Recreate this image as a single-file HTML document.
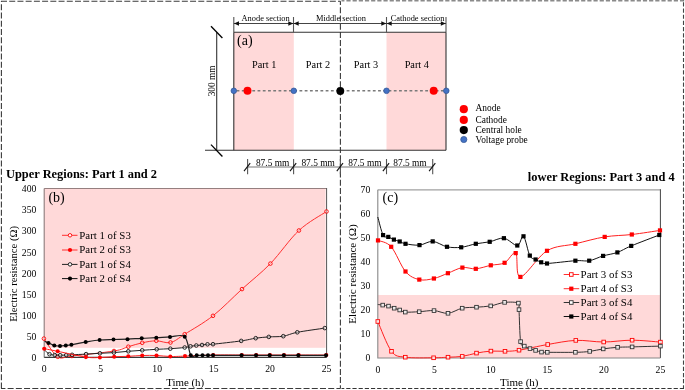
<!DOCTYPE html>
<html><head><meta charset="utf-8"><title>Figure</title>
<style>
html,body{margin:0;padding:0;background:#fff;width:685px;height:390px;overflow:hidden;}
svg{display:block;font-family:"Liberation Serif", serif;}
</style></head>
<body>
<svg style="will-change:transform" width="685" height="390" viewBox="0 0 685 390">
<rect x="0" y="0" width="685" height="390" fill="#fff"/>
<g fill="none" stroke="#3a3a3a" stroke-width="1.1" stroke-dasharray="6 2.22">
<line x1="1" y1="1.3" x2="340.4" y2="1.3"/>
<line x1="1.4" y1="1.3" x2="1.4" y2="388.5" stroke-dashoffset="5.22"/>
<line x1="1" y1="388.5" x2="340.4" y2="388.5" stroke-dashoffset="1.6"/>
<line x1="340.4" y1="1.3" x2="340.4" y2="388.5" stroke-dashoffset="2.3"/>
</g>
<g fill="none" stroke-dasharray="4.2 1.977">
<line x1="341.5" y1="0.7" x2="684.5" y2="0.7" stroke="#8a8a8a" stroke-width="1.6" stroke-dashoffset="1.27"/>
<line x1="683.5" y1="0" x2="683.5" y2="388.5" stroke="#444" stroke-width="1.1" stroke-dashoffset="3.87"/>
<line x1="341.5" y1="388.5" x2="684" y2="388.5" stroke="#333" stroke-width="1.1" stroke-dashoffset="1.42"/>
</g>
<rect x="233.8" y="32.3" width="60.0" height="118.0" fill="#FFD9D9"/>
<rect x="386.5" y="32.3" width="59.5" height="118.0" fill="#FFD9D9"/>
<g stroke="#333" stroke-width="1.1" fill="none">
<line x1="233.8" y1="32.3" x2="446.0" y2="32.3"/>
<line x1="233.8" y1="32.3" x2="233.8" y2="150.3"/>
<line x1="446.0" y1="32.3" x2="446.0" y2="150.3"/>
<line x1="205" y1="150.3" x2="446.0" y2="150.3"/>
<line x1="233.8" y1="17" x2="233.8" y2="32.3" stroke="#555"/>
<line x1="293.5" y1="17" x2="293.5" y2="32.3" stroke="#555"/>
<line x1="386.5" y1="17" x2="386.5" y2="32.3" stroke="#555"/>
<line x1="446.0" y1="17" x2="446.0" y2="32.3" stroke="#555"/>
<line x1="233.8" y1="23.5" x2="446.0" y2="23.5" stroke="#444"/>
<line x1="216.7" y1="32.3" x2="216.7" y2="150.3"/>
<line x1="211" y1="26.3" x2="222.4" y2="38" stroke="#000" stroke-width="1.3"/>
<line x1="211" y1="144.6" x2="222.4" y2="156.5" stroke="#000" stroke-width="1.3"/>
<line x1="247.6" y1="167.0" x2="432.7" y2="167.0" stroke="#777" stroke-width="1.2"/>
<line x1="247.6" y1="159" x2="247.6" y2="174.2" stroke="#555"/>
<line x1="244.0" y1="171.2" x2="250.2" y2="163.2" stroke="#111" stroke-width="1.1"/>
<line x1="293.6" y1="159" x2="293.6" y2="174.2" stroke="#555"/>
<line x1="290.0" y1="171.2" x2="296.2" y2="163.2" stroke="#111" stroke-width="1.1"/>
<line x1="340.4" y1="159" x2="340.4" y2="174.2" stroke="#555"/>
<line x1="336.8" y1="171.2" x2="343.0" y2="163.2" stroke="#111" stroke-width="1.1"/>
<line x1="386.5" y1="159" x2="386.5" y2="174.2" stroke="#555"/>
<line x1="382.9" y1="171.2" x2="389.1" y2="163.2" stroke="#111" stroke-width="1.1"/>
<line x1="432.7" y1="159" x2="432.7" y2="174.2" stroke="#555"/>
<line x1="429.1" y1="171.2" x2="435.3" y2="163.2" stroke="#111" stroke-width="1.1"/>
</g>
<g fill="#111">
<path d="M234.0,23.5 l5,-2.3 v4.6z"/>
<path d="M293.3,23.5 l-5,-2.3 v4.6z"/>
<path d="M293.7,23.5 l5,-2.3 v4.6z"/>
<path d="M386.3,23.5 l-5,-2.3 v4.6z"/>
<path d="M386.7,23.5 l5,-2.3 v4.6z"/>
<path d="M445.8,23.5 l-5,-2.3 v4.6z"/>
</g>
<g font-family='"Liberation Serif", serif'>
<text x="265.60" y="20.80" font-size="8.40" text-anchor="middle" font-weight="normal" fill="#000" >Anode section</text>
<text x="340.95" y="20.80" font-size="8.40" text-anchor="middle" font-weight="normal" fill="#000" >Middle section</text>
<text x="417.55" y="20.80" font-size="8.40" text-anchor="middle" font-weight="normal" fill="#000" >Cathode section</text>
<text x="237.00" y="45.20" font-size="14.00" text-anchor="start" font-weight="normal" fill="#000" >(a)</text>
<text x="264.20" y="68.20" font-size="10.30" text-anchor="middle" font-weight="normal" fill="#000" >Part 1</text>
<text x="318.00" y="68.20" font-size="10.30" text-anchor="middle" font-weight="normal" fill="#000" >Part 2</text>
<text x="366.00" y="68.20" font-size="10.30" text-anchor="middle" font-weight="normal" fill="#000" >Part 3</text>
<text x="416.80" y="68.20" font-size="10.30" text-anchor="middle" font-weight="normal" fill="#000" >Part 4</text>
<text x="272.60" y="166.00" font-size="9.40" text-anchor="middle" font-weight="normal" fill="#000" >87.5 mm</text>
<text x="318.10" y="166.00" font-size="9.40" text-anchor="middle" font-weight="normal" fill="#000" >87.5 mm</text>
<text x="364.80" y="166.00" font-size="9.40" text-anchor="middle" font-weight="normal" fill="#000" >87.5 mm</text>
<text x="410.00" y="166.00" font-size="9.40" text-anchor="middle" font-weight="normal" fill="#000" >87.5 mm</text>
<text x="214.7" y="81" font-size="9.3" text-anchor="middle" fill="#000" transform="rotate(-90 214.7 81)">300 mm</text>
<text x="475.60" y="111.30" font-size="9.40" text-anchor="start" font-weight="normal" fill="#000" >Anode</text>
<text x="475.60" y="122.80" font-size="9.40" text-anchor="start" font-weight="normal" fill="#000" >Cathode</text>
<text x="475.60" y="132.50" font-size="9.40" text-anchor="start" font-weight="normal" fill="#000" >Central hole</text>
<text x="475.60" y="142.50" font-size="9.40" text-anchor="start" font-weight="normal" fill="#000" >Voltage probe</text>
</g>
<line x1="233.8" y1="90.8" x2="446.0" y2="90.8" stroke="#7a7a7a" stroke-width="1.4" stroke-dasharray="2.8 2.44" stroke-dashoffset="2.45"/>
<circle cx="233.8" cy="90.8" r="2.8" fill="#4472C4" stroke="#2F528F" stroke-width="0.7"/>
<circle cx="293.8" cy="90.8" r="2.8" fill="#4472C4" stroke="#2F528F" stroke-width="0.7"/>
<circle cx="386.5" cy="90.8" r="2.8" fill="#4472C4" stroke="#2F528F" stroke-width="0.7"/>
<circle cx="446.3" cy="90.8" r="2.8" fill="#4472C4" stroke="#2F528F" stroke-width="0.7"/>
<circle cx="247.5" cy="90.8" r="4" fill="#FF0000"/>
<circle cx="433.7" cy="90.8" r="4" fill="#FF0000"/>
<circle cx="340.3" cy="91" r="3.9" fill="#000"/>
<circle cx="463.8" cy="109.2" r="4.1" fill="#FF0000"/>
<circle cx="463.8" cy="119.9" r="4.1" fill="#FF0000"/>
<circle cx="463.8" cy="130.1" r="4.1" fill="#000"/>
<circle cx="463.8" cy="139.5" r="3.1" fill="#4472C4" stroke="#2F528F" stroke-width="0.7"/>
<rect x="44.2" y="188.5" width="281.4" height="159.3" fill="#FFD9D9"/>
<path d="M44.2,188.5 H326.6" fill="none" stroke="#957f7f" stroke-width="1.1"/>
<path d="M44.2,188.5 V348.0" fill="none" stroke="#8d7b7b" stroke-width="1.1"/>
<path d="M44.2,348 V357.4" fill="none" stroke="#777" stroke-width="1.1"/>
<path d="M326.6,188.0 V357.4" fill="none" stroke="#555" stroke-width="1"/>
<path d="M44.2,357.4 H326.6" fill="none" stroke="#3a3a3a" stroke-width="1.1"/>
<g font-family='"Liberation Serif", serif'>
<text x="36.40" y="361.15" font-size="9.70" text-anchor="end" font-weight="normal" fill="#000" >0</text>
<text x="36.40" y="340.04" font-size="9.70" text-anchor="end" font-weight="normal" fill="#000" >50</text>
<text x="36.40" y="318.92" font-size="9.70" text-anchor="end" font-weight="normal" fill="#000" >100</text>
<text x="36.40" y="297.81" font-size="9.70" text-anchor="end" font-weight="normal" fill="#000" >150</text>
<text x="36.40" y="276.70" font-size="9.70" text-anchor="end" font-weight="normal" fill="#000" >200</text>
<text x="36.40" y="255.59" font-size="9.70" text-anchor="end" font-weight="normal" fill="#000" >250</text>
<text x="36.40" y="234.47" font-size="9.70" text-anchor="end" font-weight="normal" fill="#000" >300</text>
<text x="36.40" y="213.36" font-size="9.70" text-anchor="end" font-weight="normal" fill="#000" >350</text>
<text x="36.40" y="192.25" font-size="9.70" text-anchor="end" font-weight="normal" fill="#000" >400</text>
<text x="44.20" y="371.80" font-size="9.70" text-anchor="middle" font-weight="normal" fill="#000" >0</text>
<text x="100.68" y="371.80" font-size="9.70" text-anchor="middle" font-weight="normal" fill="#000" >5</text>
<text x="157.16" y="371.80" font-size="9.70" text-anchor="middle" font-weight="normal" fill="#000" >10</text>
<text x="213.64" y="371.80" font-size="9.70" text-anchor="middle" font-weight="normal" fill="#000" >15</text>
<text x="270.12" y="371.80" font-size="9.70" text-anchor="middle" font-weight="normal" fill="#000" >20</text>
<text x="326.60" y="371.80" font-size="9.70" text-anchor="middle" font-weight="normal" fill="#000" >25</text>
<text x="185.20" y="385.60" font-size="10.90" text-anchor="middle" font-weight="normal" fill="#000" >Time (h)</text>
<text x="48.40" y="201.80" font-size="14.00" text-anchor="start" font-weight="normal" fill="#000" >(b)</text>
<text x="17.2" y="273.9" font-size="10.7" text-anchor="middle" fill="#000" transform="rotate(-90 17.2 273.9)">Electric resistance (&#937;)</text>
<text x="6.00" y="178.30" font-size="12.42" text-anchor="start" font-weight="bold" fill="#000" >Upper Regions: Part 1 and 2</text>
</g>
<path d="M43.90,338.60 C46.20,341.63 53.03,353.90 57.70,356.80 C62.37,359.70 62.52,356.97 71.90,356.00 C81.28,355.03 104.60,352.55 114.00,351.00 C123.40,349.45 123.60,348.07 128.30,346.70 C133.00,345.33 137.53,343.78 142.20,342.80 C146.87,341.82 151.58,340.85 156.30,340.80 C161.02,340.75 165.77,343.60 170.50,342.50 C175.23,341.40 177.62,338.65 184.70,334.20 C191.78,329.75 203.45,323.32 213.00,315.80 C222.55,308.28 232.43,297.80 242.00,289.10 C251.57,280.40 260.92,273.37 270.40,263.60 C279.88,253.83 289.55,239.18 298.90,230.50 C308.25,221.82 321.90,214.67 326.50,211.50" fill="none" stroke="#ff3030" stroke-width="1"/>
<circle cx="43.9" cy="338.6" r="1.8" fill="#fff" fill-opacity="0.4" stroke="#FF0000" stroke-width="0.9"/>
<circle cx="57.7" cy="356.8" r="1.8" fill="#fff" fill-opacity="0.4" stroke="#FF0000" stroke-width="0.9"/>
<circle cx="71.9" cy="356.0" r="1.8" fill="#fff" fill-opacity="0.4" stroke="#FF0000" stroke-width="0.9"/>
<circle cx="114.0" cy="351.0" r="1.8" fill="#fff" fill-opacity="0.4" stroke="#FF0000" stroke-width="0.9"/>
<circle cx="128.3" cy="346.7" r="1.8" fill="#fff" fill-opacity="0.4" stroke="#FF0000" stroke-width="0.9"/>
<circle cx="142.2" cy="342.8" r="1.8" fill="#fff" fill-opacity="0.4" stroke="#FF0000" stroke-width="0.9"/>
<circle cx="156.3" cy="340.8" r="1.8" fill="#fff" fill-opacity="0.4" stroke="#FF0000" stroke-width="0.9"/>
<circle cx="170.5" cy="342.5" r="1.8" fill="#fff" fill-opacity="0.4" stroke="#FF0000" stroke-width="0.9"/>
<circle cx="184.7" cy="334.2" r="1.8" fill="#fff" fill-opacity="0.4" stroke="#FF0000" stroke-width="0.9"/>
<circle cx="213.0" cy="315.8" r="1.8" fill="#fff" fill-opacity="0.4" stroke="#FF0000" stroke-width="0.9"/>
<circle cx="242.0" cy="289.1" r="1.8" fill="#fff" fill-opacity="0.4" stroke="#FF0000" stroke-width="0.9"/>
<circle cx="270.4" cy="263.6" r="1.8" fill="#fff" fill-opacity="0.4" stroke="#FF0000" stroke-width="0.9"/>
<circle cx="298.9" cy="230.5" r="1.8" fill="#fff" fill-opacity="0.4" stroke="#FF0000" stroke-width="0.9"/>
<circle cx="326.5" cy="211.5" r="1.8" fill="#fff" fill-opacity="0.4" stroke="#FF0000" stroke-width="0.9"/>
<path d="M44.20,349.70 C45.08,350.45 47.73,353.32 49.50,354.20 C51.27,355.08 53.02,354.83 54.80,355.00 C56.58,355.17 58.30,355.18 60.20,355.20 C62.10,355.22 64.22,355.17 66.20,355.10 C68.18,355.03 68.78,354.97 72.10,354.80 C75.42,354.63 81.47,354.35 86.10,354.10 C90.73,353.85 95.27,353.55 99.90,353.30 C104.53,353.05 109.17,352.93 113.90,352.60 C118.63,352.27 123.58,351.68 128.30,351.30 C133.02,350.92 137.47,350.63 142.20,350.30 C146.93,349.97 152.02,349.57 156.70,349.30 C161.38,349.03 165.63,349.00 170.30,348.70 C174.97,348.40 181.33,347.90 184.70,347.50 C188.07,347.10 188.57,346.63 190.50,346.30 C192.43,345.97 194.38,345.72 196.30,345.50 C198.22,345.28 200.13,345.20 202.00,345.00 C203.87,344.80 205.67,344.43 207.50,344.30 C209.33,344.17 207.38,344.77 213.00,344.20 C218.62,343.63 234.08,341.90 241.20,340.90 C248.32,339.90 251.10,338.87 255.70,338.20 C260.30,337.53 264.20,337.23 268.80,336.90 C273.40,336.57 278.55,336.97 283.30,336.20 C288.05,335.43 290.38,333.65 297.30,332.30 C304.22,330.95 320.22,328.80 324.80,328.10" fill="none" stroke="#222" stroke-width="1"/>
<circle cx="49.5" cy="354.2" r="1.8" fill="#fff" fill-opacity="0.4" stroke="#111" stroke-width="0.9"/>
<circle cx="54.8" cy="355.0" r="1.8" fill="#fff" fill-opacity="0.4" stroke="#111" stroke-width="0.9"/>
<circle cx="60.2" cy="355.2" r="1.8" fill="#fff" fill-opacity="0.4" stroke="#111" stroke-width="0.9"/>
<circle cx="66.2" cy="355.1" r="1.8" fill="#fff" fill-opacity="0.4" stroke="#111" stroke-width="0.9"/>
<circle cx="72.1" cy="354.8" r="1.8" fill="#fff" fill-opacity="0.4" stroke="#111" stroke-width="0.9"/>
<circle cx="86.1" cy="354.1" r="1.8" fill="#fff" fill-opacity="0.4" stroke="#111" stroke-width="0.9"/>
<circle cx="99.9" cy="353.3" r="1.8" fill="#fff" fill-opacity="0.4" stroke="#111" stroke-width="0.9"/>
<circle cx="113.9" cy="352.6" r="1.8" fill="#fff" fill-opacity="0.4" stroke="#111" stroke-width="0.9"/>
<circle cx="128.3" cy="351.3" r="1.8" fill="#fff" fill-opacity="0.4" stroke="#111" stroke-width="0.9"/>
<circle cx="142.2" cy="350.3" r="1.8" fill="#fff" fill-opacity="0.4" stroke="#111" stroke-width="0.9"/>
<circle cx="156.7" cy="349.3" r="1.8" fill="#fff" fill-opacity="0.4" stroke="#111" stroke-width="0.9"/>
<circle cx="170.3" cy="348.7" r="1.8" fill="#fff" fill-opacity="0.4" stroke="#111" stroke-width="0.9"/>
<circle cx="184.7" cy="347.5" r="1.8" fill="#fff" fill-opacity="0.4" stroke="#111" stroke-width="0.9"/>
<circle cx="190.5" cy="346.3" r="1.8" fill="#fff" fill-opacity="0.4" stroke="#111" stroke-width="0.9"/>
<circle cx="196.3" cy="345.5" r="1.8" fill="#fff" fill-opacity="0.4" stroke="#111" stroke-width="0.9"/>
<circle cx="202.0" cy="345.0" r="1.8" fill="#fff" fill-opacity="0.4" stroke="#111" stroke-width="0.9"/>
<circle cx="207.5" cy="344.3" r="1.8" fill="#fff" fill-opacity="0.4" stroke="#111" stroke-width="0.9"/>
<circle cx="213.0" cy="344.2" r="1.8" fill="#fff" fill-opacity="0.4" stroke="#111" stroke-width="0.9"/>
<circle cx="241.2" cy="340.9" r="1.8" fill="#fff" fill-opacity="0.4" stroke="#111" stroke-width="0.9"/>
<circle cx="255.7" cy="338.2" r="1.8" fill="#fff" fill-opacity="0.4" stroke="#111" stroke-width="0.9"/>
<circle cx="268.8" cy="336.9" r="1.8" fill="#fff" fill-opacity="0.4" stroke="#111" stroke-width="0.9"/>
<circle cx="283.3" cy="336.2" r="1.8" fill="#fff" fill-opacity="0.4" stroke="#111" stroke-width="0.9"/>
<circle cx="297.3" cy="332.3" r="1.8" fill="#fff" fill-opacity="0.4" stroke="#111" stroke-width="0.9"/>
<circle cx="324.8" cy="328.1" r="1.8" fill="#fff" fill-opacity="0.4" stroke="#111" stroke-width="0.9"/>
<path d="M44.20,348.70 C46.45,349.13 50.75,349.90 57.70,351.30 C64.65,352.70 78.87,356.07 85.90,357.10 C92.93,358.13 95.18,357.57 99.90,357.50 C104.62,357.43 109.47,356.90 114.20,356.70 C118.93,356.50 123.63,356.50 128.30,356.30 C132.97,356.10 137.50,355.63 142.20,355.50 C146.90,355.37 151.82,355.33 156.50,355.50 C161.18,355.67 165.55,356.40 170.30,356.50 C175.05,356.60 177.83,356.35 185.00,356.10 C192.17,355.85 203.82,355.18 213.30,355.00 C222.78,354.82 234.73,355.00 241.90,355.00 C249.07,355.00 251.62,355.00 256.30,355.00 C260.98,355.00 265.37,355.00 270.00,355.00 C274.63,355.00 279.32,355.00 284.10,355.00 C288.88,355.00 291.67,355.00 298.70,355.00 C305.73,355.00 321.70,355.00 326.30,355.00" fill="none" stroke="#ff2020" stroke-width="1"/>
<circle cx="44.2" cy="348.7" r="2.05" fill="#FF0000"/>
<circle cx="57.7" cy="351.3" r="2.05" fill="#FF0000"/>
<circle cx="85.9" cy="357.1" r="2.05" fill="#FF0000"/>
<circle cx="99.9" cy="357.5" r="2.05" fill="#FF0000"/>
<circle cx="114.2" cy="356.7" r="2.05" fill="#FF0000"/>
<circle cx="128.3" cy="356.3" r="2.05" fill="#FF0000"/>
<circle cx="142.2" cy="355.5" r="2.05" fill="#FF0000"/>
<circle cx="156.5" cy="355.5" r="2.05" fill="#FF0000"/>
<circle cx="170.3" cy="356.5" r="2.05" fill="#FF0000"/>
<circle cx="185.0" cy="356.1" r="2.05" fill="#FF0000"/>
<circle cx="213.3" cy="355.0" r="2.05" fill="#FF0000"/>
<circle cx="241.9" cy="355.0" r="2.05" fill="#FF0000"/>
<circle cx="256.3" cy="355.0" r="2.05" fill="#FF0000"/>
<circle cx="270.0" cy="355.0" r="2.05" fill="#FF0000"/>
<circle cx="284.1" cy="355.0" r="2.05" fill="#FF0000"/>
<circle cx="298.7" cy="355.0" r="2.05" fill="#FF0000"/>
<circle cx="326.3" cy="355.0" r="2.05" fill="#FF0000"/>
<path d="M44.60,341.30 C45.25,341.57 46.88,342.18 48.50,342.90 C50.12,343.62 52.38,345.08 54.30,345.60 C56.22,346.12 58.08,346.02 60.00,346.00 C61.92,345.98 63.90,345.70 65.80,345.50 C67.70,345.30 68.08,345.37 71.40,344.80 C74.72,344.23 81.00,342.90 85.70,342.10 C90.40,341.30 94.97,340.43 99.60,340.00 C104.23,339.57 108.85,339.63 113.50,339.50 C118.15,339.37 122.80,339.40 127.50,339.20 C132.20,339.00 136.90,338.55 141.70,338.30 C146.50,338.05 151.58,337.93 156.30,337.70 C161.02,337.47 165.27,337.07 170.00,336.90 C174.73,336.73 181.23,333.63 184.70,336.70 C188.17,339.77 188.80,352.20 190.80,355.30 C192.80,358.40 194.75,355.30 196.70,355.30 C198.65,355.30 200.62,355.30 202.50,355.30 C204.38,355.30 206.25,355.30 208.00,355.30 C209.75,355.30 207.42,355.30 213.00,355.30 C218.58,355.30 234.33,355.30 241.50,355.30 C248.67,355.30 251.32,355.30 256.00,355.30 C260.68,355.30 264.97,355.30 269.60,355.30 C274.23,355.30 279.02,355.30 283.80,355.30 C288.58,355.30 291.27,355.30 298.30,355.30 C305.33,355.30 321.38,355.30 326.00,355.30" fill="none" stroke="#222" stroke-width="1.2"/>
<circle cx="48.5" cy="342.9" r="2.0" fill="#000"/>
<circle cx="54.3" cy="345.6" r="2.0" fill="#000"/>
<circle cx="60.0" cy="346.0" r="2.0" fill="#000"/>
<circle cx="65.8" cy="345.5" r="2.0" fill="#000"/>
<circle cx="71.4" cy="344.8" r="2.0" fill="#000"/>
<circle cx="85.7" cy="342.1" r="2.0" fill="#000"/>
<circle cx="99.6" cy="340.0" r="2.0" fill="#000"/>
<circle cx="113.5" cy="339.5" r="2.0" fill="#000"/>
<circle cx="127.5" cy="339.2" r="2.0" fill="#000"/>
<circle cx="141.7" cy="338.3" r="2.0" fill="#000"/>
<circle cx="156.3" cy="337.7" r="2.0" fill="#000"/>
<circle cx="170.0" cy="336.9" r="2.0" fill="#000"/>
<circle cx="184.7" cy="336.7" r="2.0" fill="#000"/>
<circle cx="190.8" cy="355.3" r="2.0" fill="#000"/>
<circle cx="196.7" cy="355.3" r="2.0" fill="#000"/>
<circle cx="202.5" cy="355.3" r="2.0" fill="#000"/>
<circle cx="208.0" cy="355.3" r="2.0" fill="#000"/>
<circle cx="213.0" cy="355.3" r="2.0" fill="#000"/>
<circle cx="241.5" cy="355.3" r="2.0" fill="#000"/>
<circle cx="256.0" cy="355.3" r="2.0" fill="#000"/>
<circle cx="269.6" cy="355.3" r="2.0" fill="#000"/>
<circle cx="283.8" cy="355.3" r="2.0" fill="#000"/>
<circle cx="298.3" cy="355.3" r="2.0" fill="#000"/>
<circle cx="326.0" cy="355.3" r="2.0" fill="#000"/>
<line x1="62" y1="235.3" x2="77.5" y2="235.3" stroke="#ff3030" stroke-width="1"/>
<circle cx="70" cy="235.3" r="1.75" fill="#fff" stroke="#FF0000" stroke-width="0.9"/>
<line x1="62" y1="250.0" x2="77.5" y2="250.0" stroke="#ff3030" stroke-width="1"/>
<circle cx="70" cy="250.0" r="2.1" fill="#FF0000"/>
<line x1="62" y1="264.4" x2="77.5" y2="264.4" stroke="#222" stroke-width="1"/>
<circle cx="70" cy="264.4" r="1.75" fill="#fff" stroke="#111" stroke-width="0.9"/>
<line x1="62" y1="278.6" x2="77.5" y2="278.6" stroke="#111" stroke-width="1"/>
<circle cx="70" cy="278.6" r="2.1" fill="#000"/>
<g font-family='"Liberation Serif", serif'>
<text x="79.30" y="238.60" font-size="10.85" text-anchor="start" font-weight="normal" fill="#000" >Part 1 of S3</text>
<text x="79.30" y="253.30" font-size="10.85" text-anchor="start" font-weight="normal" fill="#000" >Part 2 of S3</text>
<text x="79.30" y="267.70" font-size="10.85" text-anchor="start" font-weight="normal" fill="#000" >Part 1 of S4</text>
<text x="79.30" y="281.90" font-size="10.85" text-anchor="start" font-weight="normal" fill="#000" >Part 2 of S4</text>
</g>
<rect x="377.8" y="295.0" width="282.6" height="63.0" fill="#FFD9D9"/>
<path d="M377.8,189.8 H660.4" fill="none" stroke="#a0a0a0" stroke-width="1.2"/>
<path d="M660.4,189.2 V358.0" fill="none" stroke="#444" stroke-width="1"/>
<path d="M377.8,189.8 V358.0 H660.4" fill="none" stroke="#888" stroke-width="1.1"/>
<g font-family='"Liberation Serif", serif'>
<text x="370.30" y="361.20" font-size="9.70" text-anchor="end" font-weight="normal" fill="#000" >0</text>
<text x="370.30" y="337.17" font-size="9.70" text-anchor="end" font-weight="normal" fill="#000" >10</text>
<text x="370.30" y="313.14" font-size="9.70" text-anchor="end" font-weight="normal" fill="#000" >20</text>
<text x="370.30" y="289.11" font-size="9.70" text-anchor="end" font-weight="normal" fill="#000" >30</text>
<text x="370.30" y="265.09" font-size="9.70" text-anchor="end" font-weight="normal" fill="#000" >40</text>
<text x="370.30" y="241.06" font-size="9.70" text-anchor="end" font-weight="normal" fill="#000" >50</text>
<text x="370.30" y="217.03" font-size="9.70" text-anchor="end" font-weight="normal" fill="#000" >60</text>
<text x="370.30" y="193.00" font-size="9.70" text-anchor="end" font-weight="normal" fill="#000" >70</text>
<text x="377.80" y="372.50" font-size="9.70" text-anchor="middle" font-weight="normal" fill="#000" >0</text>
<text x="434.32" y="372.50" font-size="9.70" text-anchor="middle" font-weight="normal" fill="#000" >5</text>
<text x="490.84" y="372.50" font-size="9.70" text-anchor="middle" font-weight="normal" fill="#000" >10</text>
<text x="547.36" y="372.50" font-size="9.70" text-anchor="middle" font-weight="normal" fill="#000" >15</text>
<text x="603.88" y="372.50" font-size="9.70" text-anchor="middle" font-weight="normal" fill="#000" >20</text>
<text x="660.40" y="372.50" font-size="9.70" text-anchor="middle" font-weight="normal" fill="#000" >25</text>
<text x="519.30" y="386.30" font-size="11.00" text-anchor="middle" font-weight="normal" fill="#000" >Time (h)</text>
<text x="382.50" y="201.90" font-size="14.00" text-anchor="start" font-weight="normal" fill="#000" >(c)</text>
<text x="355.7" y="274.0" font-size="11.1" text-anchor="middle" fill="#000" transform="rotate(-90 355.7 274.0)">Electric resistance (&#937;)</text>
<text x="674.70" y="181.00" font-size="12.42" text-anchor="end" font-weight="bold" fill="#000" >lower Regions: Part 3 and 4</text>
</g>
<g fill="none" stroke-width="1">
<path d="M377.80,321.50 C380.08,326.47 386.92,345.35 391.50,351.30 C396.08,357.25 398.28,356.12 405.30,357.20 C412.32,358.28 426.48,357.80 433.60,357.80 C440.72,357.80 443.23,357.43 448.00,357.20 C452.77,356.97 457.45,357.08 462.20,356.40 C466.95,355.72 471.72,353.98 476.50,353.10 C481.28,352.22 486.15,351.40 490.90,351.10 C495.65,350.80 500.32,351.45 505.00,351.30 C509.68,351.15 511.88,351.33 519.00,350.20 C526.12,349.07 538.23,346.13 547.70,344.50 C557.17,342.87 566.47,340.82 575.80,340.40 C585.13,339.98 594.32,342.03 603.70,342.00 C613.08,341.97 622.65,340.18 632.10,340.20 C641.55,340.22 655.68,341.78 660.40,342.10" stroke="#ff2020"/>
<path d="M378.00,240.40 C380.20,241.47 386.62,241.62 391.20,246.80 C395.78,251.98 400.82,266.03 405.50,271.50 C410.18,276.97 414.57,278.43 419.30,279.60 C424.03,280.77 429.13,279.57 433.90,278.50 C438.67,277.43 443.15,275.02 447.90,273.20 C452.65,271.38 457.75,268.33 462.40,267.60 C467.05,266.87 471.07,269.18 475.80,268.80 C480.53,268.42 486.00,266.30 490.80,265.30 C495.60,264.30 500.45,264.83 504.60,262.80 C508.75,260.77 513.07,250.75 515.70,253.10 C518.33,255.45 515.18,277.28 520.40,276.90 C525.62,276.52 537.83,256.32 547.00,250.80 C556.17,245.28 565.78,246.12 575.40,243.80 C585.02,241.48 595.30,238.45 604.70,236.90 C614.10,235.35 622.58,235.58 631.80,234.50 C641.02,233.42 655.30,231.08 660.00,230.40" stroke="#ff2020"/>
<path d="M377.80,304.50 C378.62,304.60 380.92,304.83 382.70,305.10 C384.48,305.37 386.58,305.58 388.50,306.10 C390.42,306.62 392.33,307.55 394.20,308.20 C396.07,308.85 397.85,309.35 399.70,310.00 C401.55,310.65 402.05,311.82 405.30,312.10 C408.55,312.38 414.42,311.95 419.20,311.70 C423.98,311.45 429.20,310.33 434.00,310.60 C438.80,310.87 443.30,313.70 448.00,313.30 C452.70,312.90 457.45,309.22 462.20,308.20 C466.95,307.18 471.75,307.58 476.50,307.20 C481.25,306.82 486.02,306.70 490.70,305.90 C495.38,305.10 499.98,302.87 504.60,302.40 C509.22,301.93 516.00,301.90 518.40,303.10 C520.80,304.30 518.63,303.18 519.00,309.60 C519.37,316.02 519.72,335.52 520.60,341.60 C521.48,347.68 522.73,344.93 524.30,346.10 C525.87,347.27 528.12,347.88 530.00,348.60 C531.88,349.32 533.68,349.82 535.60,350.40 C537.52,350.98 539.55,351.78 541.50,352.10 C543.45,352.42 541.65,352.27 547.30,352.30 C552.95,352.33 568.33,352.45 575.40,352.30 C582.47,352.15 585.07,351.97 589.70,351.40 C594.33,350.83 598.55,349.58 603.20,348.90 C607.85,348.22 612.78,347.63 617.60,347.30 C622.42,346.97 624.97,347.10 632.10,346.90 C639.23,346.70 655.68,346.23 660.40,346.10" stroke="#333"/>
<path d="M377.80,217.00 C378.68,220.02 381.35,231.78 383.10,235.10 C384.85,238.42 386.50,236.15 388.30,236.90 C390.10,237.65 392.00,238.83 393.90,239.60 C395.80,240.37 397.77,240.80 399.70,241.50 C401.63,242.20 402.20,243.20 405.50,243.80 C408.80,244.40 414.97,245.50 419.50,245.10 C424.03,244.70 428.12,241.12 432.70,241.40 C437.28,241.68 442.25,245.82 447.00,246.80 C451.75,247.78 456.40,247.80 461.20,247.30 C466.00,246.80 471.05,244.72 475.80,243.80 C480.55,242.88 485.02,242.73 489.70,241.80 C494.38,240.87 499.30,237.58 503.90,238.20 C508.50,238.82 514.03,245.82 517.30,245.50 C520.57,245.18 521.42,234.62 523.50,236.30 C525.58,237.98 527.78,251.73 529.80,255.60 C531.82,259.47 533.70,258.38 535.60,259.50 C537.50,260.62 539.30,261.63 541.20,262.30 C543.10,262.97 541.30,263.77 547.00,263.50 C552.70,263.23 568.37,261.17 575.40,260.70 C582.43,260.23 584.58,261.50 589.20,260.70 C593.82,259.90 598.40,257.28 603.10,255.90 C607.80,254.52 612.72,254.07 617.40,252.40 C622.08,250.73 624.22,248.80 631.20,245.90 C638.18,243.00 654.62,236.82 659.30,235.00" stroke="#111"/>
</g>
<rect x="376.0" y="319.7" width="3.6" height="3.6" fill="#fff" fill-opacity="0.8" stroke="#FF0000" stroke-width="0.9"/>
<rect x="389.7" y="349.5" width="3.6" height="3.6" fill="#fff" fill-opacity="0.8" stroke="#FF0000" stroke-width="0.9"/>
<rect x="403.5" y="355.4" width="3.6" height="3.6" fill="#fff" fill-opacity="0.8" stroke="#FF0000" stroke-width="0.9"/>
<rect x="431.8" y="356.0" width="3.6" height="3.6" fill="#fff" fill-opacity="0.8" stroke="#FF0000" stroke-width="0.9"/>
<rect x="446.2" y="355.4" width="3.6" height="3.6" fill="#fff" fill-opacity="0.8" stroke="#FF0000" stroke-width="0.9"/>
<rect x="460.4" y="354.6" width="3.6" height="3.6" fill="#fff" fill-opacity="0.8" stroke="#FF0000" stroke-width="0.9"/>
<rect x="474.7" y="351.3" width="3.6" height="3.6" fill="#fff" fill-opacity="0.8" stroke="#FF0000" stroke-width="0.9"/>
<rect x="489.1" y="349.3" width="3.6" height="3.6" fill="#fff" fill-opacity="0.8" stroke="#FF0000" stroke-width="0.9"/>
<rect x="503.2" y="349.5" width="3.6" height="3.6" fill="#fff" fill-opacity="0.8" stroke="#FF0000" stroke-width="0.9"/>
<rect x="517.2" y="348.4" width="3.6" height="3.6" fill="#fff" fill-opacity="0.8" stroke="#FF0000" stroke-width="0.9"/>
<rect x="545.9" y="342.7" width="3.6" height="3.6" fill="#fff" fill-opacity="0.8" stroke="#FF0000" stroke-width="0.9"/>
<rect x="574.0" y="338.6" width="3.6" height="3.6" fill="#fff" fill-opacity="0.8" stroke="#FF0000" stroke-width="0.9"/>
<rect x="601.9" y="340.2" width="3.6" height="3.6" fill="#fff" fill-opacity="0.8" stroke="#FF0000" stroke-width="0.9"/>
<rect x="630.3" y="338.4" width="3.6" height="3.6" fill="#fff" fill-opacity="0.8" stroke="#FF0000" stroke-width="0.9"/>
<rect x="658.6" y="340.3" width="3.6" height="3.6" fill="#fff" fill-opacity="0.8" stroke="#FF0000" stroke-width="0.9"/>
<rect x="375.9" y="238.3" width="4.2" height="4.2" fill="#FF0000"/>
<rect x="389.1" y="244.7" width="4.2" height="4.2" fill="#FF0000"/>
<rect x="403.4" y="269.4" width="4.2" height="4.2" fill="#FF0000"/>
<rect x="417.2" y="277.5" width="4.2" height="4.2" fill="#FF0000"/>
<rect x="431.8" y="276.4" width="4.2" height="4.2" fill="#FF0000"/>
<rect x="445.8" y="271.1" width="4.2" height="4.2" fill="#FF0000"/>
<rect x="460.3" y="265.5" width="4.2" height="4.2" fill="#FF0000"/>
<rect x="473.7" y="266.7" width="4.2" height="4.2" fill="#FF0000"/>
<rect x="488.7" y="263.2" width="4.2" height="4.2" fill="#FF0000"/>
<rect x="502.5" y="260.7" width="4.2" height="4.2" fill="#FF0000"/>
<rect x="513.6" y="251.0" width="4.2" height="4.2" fill="#FF0000"/>
<rect x="518.3" y="274.8" width="4.2" height="4.2" fill="#FF0000"/>
<rect x="544.9" y="248.7" width="4.2" height="4.2" fill="#FF0000"/>
<rect x="573.3" y="241.7" width="4.2" height="4.2" fill="#FF0000"/>
<rect x="602.6" y="234.8" width="4.2" height="4.2" fill="#FF0000"/>
<rect x="629.7" y="232.4" width="4.2" height="4.2" fill="#FF0000"/>
<rect x="657.9" y="228.3" width="4.2" height="4.2" fill="#FF0000"/>
<rect x="380.9" y="303.3" width="3.6" height="3.6" fill="#fff" fill-opacity="0.8" stroke="#333" stroke-width="0.9"/>
<rect x="386.7" y="304.3" width="3.6" height="3.6" fill="#fff" fill-opacity="0.8" stroke="#333" stroke-width="0.9"/>
<rect x="392.4" y="306.4" width="3.6" height="3.6" fill="#fff" fill-opacity="0.8" stroke="#333" stroke-width="0.9"/>
<rect x="397.9" y="308.2" width="3.6" height="3.6" fill="#fff" fill-opacity="0.8" stroke="#333" stroke-width="0.9"/>
<rect x="403.5" y="310.3" width="3.6" height="3.6" fill="#fff" fill-opacity="0.8" stroke="#333" stroke-width="0.9"/>
<rect x="417.4" y="309.9" width="3.6" height="3.6" fill="#fff" fill-opacity="0.8" stroke="#333" stroke-width="0.9"/>
<rect x="432.2" y="308.8" width="3.6" height="3.6" fill="#fff" fill-opacity="0.8" stroke="#333" stroke-width="0.9"/>
<rect x="446.2" y="311.5" width="3.6" height="3.6" fill="#fff" fill-opacity="0.8" stroke="#333" stroke-width="0.9"/>
<rect x="460.4" y="306.4" width="3.6" height="3.6" fill="#fff" fill-opacity="0.8" stroke="#333" stroke-width="0.9"/>
<rect x="474.7" y="305.4" width="3.6" height="3.6" fill="#fff" fill-opacity="0.8" stroke="#333" stroke-width="0.9"/>
<rect x="488.9" y="304.1" width="3.6" height="3.6" fill="#fff" fill-opacity="0.8" stroke="#333" stroke-width="0.9"/>
<rect x="502.8" y="300.6" width="3.6" height="3.6" fill="#fff" fill-opacity="0.8" stroke="#333" stroke-width="0.9"/>
<rect x="516.6" y="301.3" width="3.6" height="3.6" fill="#fff" fill-opacity="0.8" stroke="#333" stroke-width="0.9"/>
<rect x="517.2" y="307.8" width="3.6" height="3.6" fill="#fff" fill-opacity="0.8" stroke="#333" stroke-width="0.9"/>
<rect x="518.8" y="339.8" width="3.6" height="3.6" fill="#fff" fill-opacity="0.8" stroke="#333" stroke-width="0.9"/>
<rect x="522.5" y="344.3" width="3.6" height="3.6" fill="#fff" fill-opacity="0.8" stroke="#333" stroke-width="0.9"/>
<rect x="528.2" y="346.8" width="3.6" height="3.6" fill="#fff" fill-opacity="0.8" stroke="#333" stroke-width="0.9"/>
<rect x="533.8" y="348.6" width="3.6" height="3.6" fill="#fff" fill-opacity="0.8" stroke="#333" stroke-width="0.9"/>
<rect x="539.7" y="350.3" width="3.6" height="3.6" fill="#fff" fill-opacity="0.8" stroke="#333" stroke-width="0.9"/>
<rect x="545.5" y="350.5" width="3.6" height="3.6" fill="#fff" fill-opacity="0.8" stroke="#333" stroke-width="0.9"/>
<rect x="573.6" y="350.5" width="3.6" height="3.6" fill="#fff" fill-opacity="0.8" stroke="#333" stroke-width="0.9"/>
<rect x="587.9" y="349.6" width="3.6" height="3.6" fill="#fff" fill-opacity="0.8" stroke="#333" stroke-width="0.9"/>
<rect x="601.4" y="347.1" width="3.6" height="3.6" fill="#fff" fill-opacity="0.8" stroke="#333" stroke-width="0.9"/>
<rect x="615.8" y="345.5" width="3.6" height="3.6" fill="#fff" fill-opacity="0.8" stroke="#333" stroke-width="0.9"/>
<rect x="630.3" y="345.1" width="3.6" height="3.6" fill="#fff" fill-opacity="0.8" stroke="#333" stroke-width="0.9"/>
<rect x="658.6" y="344.3" width="3.6" height="3.6" fill="#fff" fill-opacity="0.8" stroke="#333" stroke-width="0.9"/>
<rect x="381.0" y="233.0" width="4.2" height="4.2" fill="#000"/>
<rect x="386.2" y="234.8" width="4.2" height="4.2" fill="#000"/>
<rect x="391.8" y="237.5" width="4.2" height="4.2" fill="#000"/>
<rect x="397.6" y="239.4" width="4.2" height="4.2" fill="#000"/>
<rect x="403.4" y="241.7" width="4.2" height="4.2" fill="#000"/>
<rect x="417.4" y="243.0" width="4.2" height="4.2" fill="#000"/>
<rect x="430.6" y="239.3" width="4.2" height="4.2" fill="#000"/>
<rect x="444.9" y="244.7" width="4.2" height="4.2" fill="#000"/>
<rect x="459.1" y="245.2" width="4.2" height="4.2" fill="#000"/>
<rect x="473.7" y="241.7" width="4.2" height="4.2" fill="#000"/>
<rect x="487.6" y="239.7" width="4.2" height="4.2" fill="#000"/>
<rect x="501.8" y="236.1" width="4.2" height="4.2" fill="#000"/>
<rect x="515.2" y="243.4" width="4.2" height="4.2" fill="#000"/>
<rect x="521.4" y="234.2" width="4.2" height="4.2" fill="#000"/>
<rect x="527.7" y="253.5" width="4.2" height="4.2" fill="#000"/>
<rect x="533.5" y="257.4" width="4.2" height="4.2" fill="#000"/>
<rect x="539.1" y="260.2" width="4.2" height="4.2" fill="#000"/>
<rect x="544.9" y="261.4" width="4.2" height="4.2" fill="#000"/>
<rect x="573.3" y="258.6" width="4.2" height="4.2" fill="#000"/>
<rect x="587.1" y="258.6" width="4.2" height="4.2" fill="#000"/>
<rect x="601.0" y="253.8" width="4.2" height="4.2" fill="#000"/>
<rect x="615.3" y="250.3" width="4.2" height="4.2" fill="#000"/>
<rect x="629.1" y="243.8" width="4.2" height="4.2" fill="#000"/>
<rect x="657.2" y="232.9" width="4.2" height="4.2" fill="#000"/>
<line x1="563.7" y1="274.5" x2="579.2" y2="274.5" stroke="#ff3030" stroke-width="1"/>
<rect x="569.5" y="272.7" width="3.6" height="3.6" fill="#fff" stroke="#FF0000" stroke-width="0.9"/>
<line x1="563.7" y1="288.7" x2="579.2" y2="288.7" stroke="#ff3030" stroke-width="1"/>
<rect x="569.2" y="286.6" width="4.2" height="4.2" fill="#FF0000"/>
<line x1="563.7" y1="302.5" x2="579.2" y2="302.5" stroke="#333" stroke-width="1"/>
<rect x="569.5" y="300.7" width="3.6" height="3.6" fill="#fff" stroke="#333" stroke-width="0.9"/>
<line x1="563.7" y1="316.5" x2="579.2" y2="316.5" stroke="#111" stroke-width="1"/>
<rect x="569.2" y="314.4" width="4.2" height="4.2" fill="#000"/>
<g font-family='"Liberation Serif", serif'>
<text x="580.60" y="278.00" font-size="10.90" text-anchor="start" font-weight="normal" fill="#000" >Part 3 of S3</text>
<text x="580.60" y="292.20" font-size="10.90" text-anchor="start" font-weight="normal" fill="#000" >Part 4 of S3</text>
<text x="580.60" y="306.00" font-size="10.90" text-anchor="start" font-weight="normal" fill="#000" >Part 3 of S4</text>
<text x="580.60" y="320.00" font-size="10.90" text-anchor="start" font-weight="normal" fill="#000" >Part 4 of S4</text>
</g>
</svg>
</body></html>
